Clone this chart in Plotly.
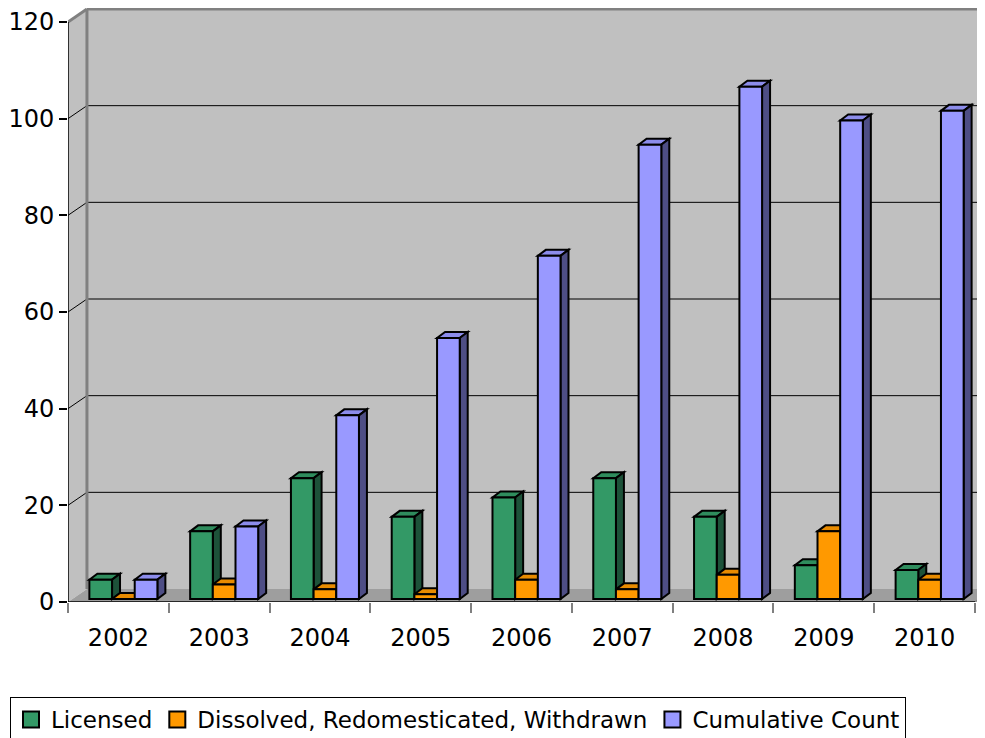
import plotly.graph_objects as go

# ---------------- data ----------------
years = ["2002", "2003", "2004", "2005", "2006", "2007", "2008", "2009", "2010"]
licensed = [4, 14, 25, 17, 21, 25, 17, 7, 6]
dissolved = [0, 3, 2, 1, 4, 2, 5, 14, 4]
cumulative = [4, 15, 38, 54, 71, 94, 106, 99, 101]
series_names = ["Licensed", "Dissolved, Redomesticated, Withdrawn", "Cumulative Count"]
y_ticks = [0, 20, 40, 60, 80, 100, 120]

# ---------------- styling / geometry ----------------
front_colors = ["#339966", "#FF9900", "#9999FF"]
top_colors = ["#2F8C5D", "#E88B00", "#8C8CEB"]
side_colors = ["#1D5239", "#8A5400", "#4E4E85"]
WALL = "#C0C0C0"
FLOOR = "#9E9E9E"
EDGE = "#808080"
FONT = "DejaVu Sans, Liberation Sans, Arial, sans-serif"

# the page body has an 8px margin, so the figure is laid out 8px up/left
PAGE_OFF = 8
W, H = 985 - PAGE_OFF, 738 - PAGE_OFF
L_PX, R_PX = 66 - PAGE_OFF, 985 - PAGE_OFF
TOP_PX, BOT_PX = 8 - PAGE_OFF, 602 - PAGE_OFF
X_UNIT = 101.0            # pixels per category
Y_UNIT = 580.0 / 120.0    # pixels per value unit
xmax = (R_PX - L_PX) / X_UNIT
ymax = (BOT_PX - TOP_PX) / Y_UNIT
ncat = len(years)
ytop = y_ticks[-1]


def dx(px):
    return px / X_UNIT


def dy(px):
    return px / Y_UNIT


WX, WY = dx(19), dy(13)          # wall depth
FX, FY = dx(5), dy(3)            # bar front offset from the front plane
BX, BY = dx(8), dy(6)            # bar depth
BW = 0.225                       # bar width (category units)


def poly(pts):
    return "M " + " L ".join(f"{x:.4f},{y:.4f}" for x, y in pts) + " Z"


shapes = []
# back wall
shapes.append(dict(type="path", path=poly([(WX, WY), (xmax + 1, WY), (xmax + 1, ytop + WY), (WX, ytop + WY)]),
                   fillcolor=WALL, line=dict(width=0), layer="below"))
# left wall
shapes.append(dict(type="path", path=poly([(0, 0), (WX, WY), (WX, ytop + WY), (0, ytop)]),
                   fillcolor=WALL, line=dict(width=0), layer="below"))
# gridlines
for v in y_ticks[1:-1]:
    shapes.append(dict(type="line", x0=WX, y0=v + WY, x1=xmax + 1, y1=v + WY,
                       line=dict(color="black", width=1), layer="below"))
    shapes.append(dict(type="line", x0=0, y0=v, x1=WX, y1=v + WY,
                       line=dict(color="black", width=1), layer="below"))
# floor
shapes.append(dict(type="path", path=poly([(0, 0), (ncat, 0), (ncat + WX, WY), (WX, WY)]),
                   fillcolor=FLOOR, line=dict(width=0), layer="below"))
# wall edges
shapes.append(dict(type="line", x0=WX, y0=WY, x1=WX, y1=ytop + WY, line=dict(color=EDGE, width=3), layer="below"))
shapes.append(dict(type="line", x0=WX, y0=ytop + WY, x1=xmax + 1, y1=ytop + WY, line=dict(color=EDGE, width=3), layer="below"))
shapes.append(dict(type="line", x0=0, y0=ytop, x1=WX, y1=ytop + WY, line=dict(color=EDGE, width=3), layer="below"))
shapes.append(dict(type="line", x0=ncat, y0=0, x1=ncat + WX, y1=WY, line=dict(color=EDGE, width=1.5), layer="below"))

all_series = [licensed, dissolved, cumulative]
fig = go.Figure()

for s, vals in enumerate(all_series):
    xs = [i + 0.5 + (s - 1) * BW + FX for i in range(ncat)]
    # top and side faces
    for xc, v in zip(xs, vals):
        x0, x1 = xc - BW / 2, xc + BW / 2
        t = FY + v
        shapes.append(dict(type="path", path=poly([(x0, t), (x1, t), (x1 + BX, t + BY), (x0 + BX, t + BY)]),
                           fillcolor=top_colors[s], line=dict(color="black", width=2), layer="between"))
        shapes.append(dict(type="path", path=poly([(x1, FY), (x1, t), (x1 + BX, t + BY), (x1 + BX, FY + BY)]),
                           fillcolor=side_colors[s], line=dict(color="black", width=2), layer="between"))
    fig.add_trace(go.Bar(
        x=xs, y=vals, base=FY, width=BW, name=series_names[s], showlegend=False,
        marker=dict(color=front_colors[s], line=dict(color="black", width=2)),
        hovertemplate="%{customdata}: %{y}<extra>" + series_names[s] + "</extra>",
        customdata=years,
    ))

# legend entries
for s in range(3):
    fig.add_trace(go.Scatter(
        x=[None], y=[None], mode="markers", name=series_names[s],
        marker=dict(symbol="square", size=16, color=front_colors[s], line=dict(color="black", width=2)),
    ))

# front axis lines
shapes.append(dict(type="line", x0=0, y0=0, x1=0, y1=ytop, line=dict(color="black", width=1.5), layer="above"))
shapes.append(dict(type="line", x0=0, y0=0, x1=ncat, y1=0, line=dict(color="black", width=1.5), layer="above"))

fig.update_layout(
    width=W, height=H,
    margin=dict(l=L_PX, r=W - R_PX, t=TOP_PX, b=H - BOT_PX),
    paper_bgcolor="white", plot_bgcolor="white",
    barmode="overlay",
    font=dict(family=FONT, size=24, color="black"),
    shapes=shapes,
    showlegend=True,
    legend=dict(
        orientation="h", xref="container", yref="container",
        x=(10 - PAGE_OFF) / W, y=1 - (697 - PAGE_OFF) / H, xanchor="left", yanchor="top",
        bgcolor="white", bordercolor="black", borderwidth=1,
        font=dict(family=FONT, size=23, color="black"),
        itemclick=False, itemdoubleclick=False, tracegroupgap=0,
    ),
    xaxis=dict(
        range=[0, xmax], tickvals=[i + 0.5 for i in range(ncat)], ticktext=years,
        ticks="", showgrid=False, zeroline=False, showline=False,
        ticklabelstandoff=19, tickfont=dict(size=24),
        minor=dict(tickvals=list(range(ncat + 1)), ticks="outside", ticklen=10,
                   tickcolor=EDGE, tickwidth=1.5, showgrid=False),
        fixedrange=True,
    ),
    yaxis=dict(
        range=[0, ymax], tickvals=y_ticks, ticks="outside", ticklen=8, tickcolor="black",
        tickwidth=1.5, showgrid=False, zeroline=False, showline=False,
        tickfont=dict(size=24), fixedrange=True,
    ),
)

fig.write_html("out.html")
